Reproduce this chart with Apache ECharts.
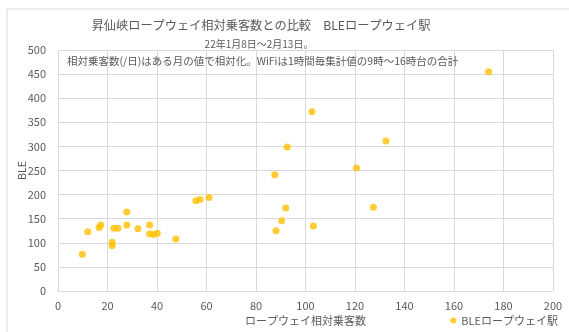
<!DOCTYPE html>
<html>
<head>
<meta charset="utf-8">
<script src="https://cdn.jsdelivr.net/npm/echarts@6/dist/echarts.min.js"></script>
<style>
  html, body { margin: 0; padding: 0; background: #fff; }
  #chart { width: 569px; height: 332px; }
</style>
</head>
<body>
<div id="chart"></div>
<script>
// ロープウェイ相対乗客数 (x) と BLE (y)
const ropewayVals = [9.8, 12.0, 16.6, 17.3, 21.9, 21.9, 22.5, 24.2, 27.8, 27.8,
  32.3, 37.0, 37.0, 38.6, 40.1, 47.6, 55.7, 57.4, 61.0, 87.6,
  88.1, 90.4, 92.0, 92.6, 102.6, 103.2, 120.6, 127.4, 132.5, 174.0];
const bleVals = [76, 123, 132, 137, 101, 94, 130, 130, 164, 137,
  129, 137, 119, 117, 120, 108, 187, 190, 194, 241,
  125, 146, 172, 299, 372, 135, 255, 174, 311, 455];

const seriesName = "BLEロープウェイ駅";
const titleText = "昇仙峡ロープウェイ相対乗客数との比較　BLEロープウェイ駅";
const subText = "22年1月8日～2月13日。";
const noteText = "相対乗客数(/日)はある月の値で相対化。WiFiは1時間毎集計値の9時～16時台の合計";

const font = "'Noto Sans CJK JP', 'Noto Sans', sans-serif";
const gray = "#595959";

const points = ropewayVals.map((x, i) => [x, bleVals[i]]);

const chart = echarts.init(document.getElementById("chart"));
chart.setOption({
  animation: false,
  textStyle: { fontFamily: font },
  graphic: [
    {
      type: "rect",
      shape: { x: 7, y: 9, width: 580, height: 340 },
      style: { fill: "none", stroke: "#d9d9d9", lineWidth: 1 },
      silent: true,
    },
  ],
  title: [
    {
      text: titleText,
      left: 261,
      top: 19,
      padding: 0,
      textAlign: "center",
      textStyle: { fontSize: 12.2, fontWeight: "normal", color: gray, fontFamily: font },
    },
    {
      text: subText,
      left: 259,
      top: 39,
      padding: 0,
      textAlign: "center",
      textStyle: { fontSize: 10, fontWeight: "normal", color: gray, fontFamily: font },
    },
    {
      text: noteText,
      left: 67,
      top: 56,
      padding: 0,
      textStyle: { fontSize: 10.5, fontWeight: "normal", color: gray, fontFamily: font },
    },
  ],
  legend: {
    right: 6,
    bottom: 1,
    icon: "circle",
    itemWidth: 6,
    itemHeight: 6,
    itemGap: 4,
    textStyle: { fontSize: 11, color: gray, fontFamily: font },
    data: [seriesName],
  },
  grid: { left: 58, right: 16, top: 50, bottom: 41 },
  xAxis: {
    type: "value",
    min: 0,
    max: 200,
    interval: 20,
    name: "ロープウェイ相対乗客数",
    nameLocation: "middle",
    nameGap: 24,
    nameMoveOverlap: false,
    nameTextStyle: { fontSize: 11, color: gray },
    axisLine: { lineStyle: { color: "#d9d9d9" } },
    axisTick: { show: false },
    axisLabel: { fontSize: 11, color: gray, margin: 9 },
    splitLine: { lineStyle: { color: "#d9d9d9" } },
  },
  yAxis: {
    type: "value",
    min: 0,
    max: 500,
    interval: 50,
    name: "BLE",
    nameLocation: "middle",
    nameGap: 31,
    nameMoveOverlap: false,
    nameTextStyle: { fontSize: 10.5, color: gray },
    axisLine: { show: false },
    axisTick: { show: false },
    axisLabel: { fontSize: 11, color: gray, margin: 12 },
    splitLine: { lineStyle: { color: "#d9d9d9" } },
  },
  series: [
    {
      name: seriesName,
      type: "scatter",
      symbol: "circle",
      symbolSize: 7,
      itemStyle: { color: "#ffc000" },
      data: points,
    },
  ],
});
</script>
</body>
</html>
